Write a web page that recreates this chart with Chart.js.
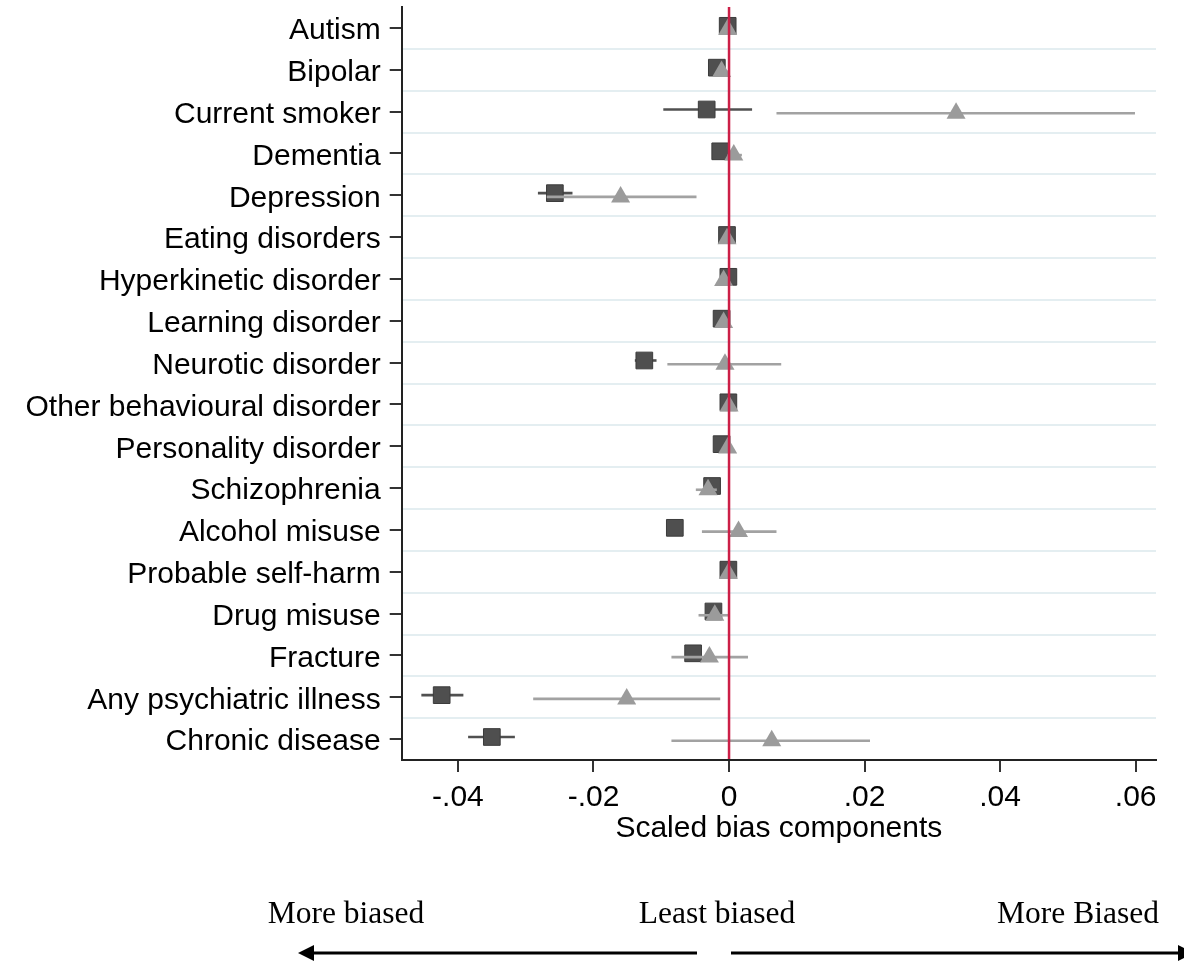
<!DOCTYPE html>
<html>
<head>
<meta charset="utf-8">
<title>Scaled bias components</title>
<script src="https://cdn.jsdelivr.net/npm/chart.js@4/dist/chart.umd.min.js"></script>
<style>
  html, body { margin: 0; padding: 0; background: #fff; }
  #wrap { width: 1184px; height: 963px; }
  canvas { display: block; }
</style>
</head>
<body>
<div id="wrap"><canvas id="c" width="1184" height="963"></canvas></div>
<script>
// Outcomes, listed top to bottom
const categories = [
  'Autism', 'Bipolar', 'Current smoker', 'Dementia', 'Depression',
  'Eating disorders', 'Hyperkinetic disorder', 'Learning disorder',
  'Neurotic disorder', 'Other behavioural disorder', 'Personality disorder',
  'Schizophrenia', 'Alcohol misuse', 'Probable self-harm', 'Drug misuse',
  'Fracture', 'Any psychiatric illness', 'Chronic disease'
];

// First bias component (dark squares): estimate and 95% interval
const squareEst = [-0.0002, -0.0018, -0.0033, -0.0013, -0.0257, -0.0003, -0.0001, -0.0011, -0.0125, -0.0001, -0.0011, -0.0025, -0.0080, -0.0001, -0.0023, -0.0053, -0.0424, -0.0350];
const squareLo  = [-0.0006, -0.0022, -0.0097, -0.0017, -0.0282, -0.0006, -0.0004, -0.0014, -0.0139, -0.0003, -0.0014, -0.0030, -0.0085, -0.0003, -0.0028, -0.0060, -0.0454, -0.0385];
const squareHi  = [ 0.0002, -0.0014,  0.0034, -0.0009, -0.0231,  0.0000,  0.0002, -0.0008, -0.0107,  0.0001, -0.0008, -0.0020, -0.0075,  0.0001, -0.0018, -0.0046, -0.0392, -0.0316];

// Second bias component (grey triangles): estimate and 95% interval
const triEst = [-0.0002, -0.0011,  0.0335,  0.0007, -0.0160, -0.0003, -0.0008, -0.0008, -0.0006,  0.0000, -0.0002, -0.0031,  0.0014, -0.0001, -0.0021, -0.0029, -0.0151,  0.0063];
const triLo  = [-0.0005, -0.0018,  0.0070, -0.0002, -0.0269, -0.0006, -0.0012, -0.0012, -0.0091, -0.0003, -0.0008, -0.0049, -0.0040, -0.0004, -0.0045, -0.0085, -0.0289, -0.0085];
const triHi  = [ 0.0001, -0.0002,  0.0599,  0.0019, -0.0048,  0.0000, -0.0004, -0.0004,  0.0077,  0.0003,  0.0004, -0.0018,  0.0070,  0.0002,  0.0001,  0.0028, -0.0013,  0.0208];

// Horizontal axis ticks
const xTicks = [-0.04, -0.02, 0, 0.02, 0.04, 0.06];
const xTickLabels = ['-.04', '-.02', '0', '.02', '.04', '.06'];

// Annotation under the axis
const directionLabels = ['More biased', 'Least biased', 'More Biased'];

const SANS = '"Liberation Sans", Arial, Helvetica, sans-serif';
const SERIF = '"Liberation Serif", "Times New Roman", Times, serif';

// small vertical dodge so the two markers of a row do not sit exactly on top of each other
const DODGE_SQ = -0.05;
const DODGE_TRI = 0.04;

const sqPoints = categories.map((c, i) => ({ x: squareEst[i], y: i + DODGE_SQ, lo: squareLo[i], hi: squareHi[i] }));
const triPoints = categories.map((c, i) => ({ x: triEst[i], y: i + DODGE_TRI, lo: triLo[i], hi: triHi[i] }));

// keep the plot box fixed: no extra room reserved for edge labels
const noEdgePadding = s => { s.paddingTop = 0; s.paddingBottom = 0; s.paddingLeft = 0; s.paddingRight = 0; };

// Confidence interval whiskers, drawn just before the markers of their own series
const intervalPlugin = {
  id: 'intervals',
  beforeDatasetDraw(chart, args) {
    const ds = chart.data.datasets[args.index];
    const xs = chart.scales.x, ys = chart.scales.y;
    const ctx = chart.ctx;
    ctx.save();
    ctx.strokeStyle = ds.ciColor;
    ctx.lineWidth = 2.6;
    ctx.lineCap = 'butt';
    ds.data.forEach(p => {
      const y = ys.getPixelForValue(p.y);
      ctx.beginPath();
      ctx.moveTo(xs.getPixelForValue(p.lo), y);
      ctx.lineTo(xs.getPixelForValue(p.hi), y);
      ctx.stroke();
    });
    ctx.restore();
  }
};

// Reference line at zero
const zeroLinePlugin = {
  id: 'zeroLine',
  afterDatasetsDraw(chart) {
    const { ctx, chartArea } = chart;
    const x = chart.scales.x.getPixelForValue(0);
    ctx.save();
    ctx.strokeStyle = '#cc1f47';
    ctx.lineWidth = 2.5;
    ctx.beginPath();
    ctx.moveTo(x, chartArea.top);
    ctx.lineTo(x, chartArea.bottom - 1);
    ctx.stroke();
    ctx.restore();
  }
};

// Direction labels and arrows below the chart
const directionPlugin = {
  id: 'direction',
  afterDraw(chart) {
    const ctx = chart.ctx;
    ctx.save();
    ctx.fillStyle = '#000';
    ctx.font = '31.5px ' + SERIF;
    ctx.textAlign = 'center';
    ctx.textBaseline = 'alphabetic';
    const centers = [346, 717, 1078];
    directionLabels.forEach((t, i) => ctx.fillText(t, centers[i], 923));

    const y = 953;
    ctx.strokeStyle = '#000';
    ctx.lineWidth = 3.2;
    // left arrow
    ctx.beginPath();
    ctx.moveTo(697, y);
    ctx.lineTo(310, y);
    ctx.stroke();
    ctx.beginPath();
    ctx.moveTo(298, y);
    ctx.lineTo(314, y - 8);
    ctx.lineTo(314, y + 8);
    ctx.closePath();
    ctx.fill();
    // right arrow
    ctx.beginPath();
    ctx.moveTo(731, y);
    ctx.lineTo(1184, y);
    ctx.stroke();
    ctx.beginPath();
    ctx.moveTo(1194, y);
    ctx.lineTo(1178, y - 8);
    ctx.lineTo(1178, y + 8);
    ctx.closePath();
    ctx.fill();
    ctx.restore();
  }
};

new Chart(document.getElementById('c'), {
  type: 'scatter',
  data: {
    datasets: [
      {
        label: 'Component 1',
        data: sqPoints,
        order: 2,
        pointStyle: 'rect',
        pointRadius: 11.8,
        pointHoverRadius: 11.8,
        backgroundColor: '#4f4f4f',
        borderColor: '#3c3c3c',
        borderWidth: 1,
        ciColor: '#505050'
      },
      {
        label: 'Component 2',
        data: triPoints,
        order: 1,
        pointStyle: 'triangle',
        pointRadius: 11,
        pointHoverRadius: 11,
        backgroundColor: '#9b9b9b',
        borderColor: '#9b9b9b',
        borderWidth: 0,
        ciColor: '#a2a2a2'
      }
    ]
  },
  options: {
    responsive: false,
    animation: false,
    devicePixelRatio: 1,
    events: [],
    layout: { autoPadding: false, padding: { left: 0, top: 7, right: 28, bottom: 113 } },
    plugins: {
      legend: { display: false },
      tooltip: { enabled: false }
    },
    scales: {
      x: {
        type: 'linear',
        position: 'bottom',
        min: -0.0483,
        max: 0.0630,
        afterBuildTicks: s => { s.ticks = xTicks.map(v => ({ value: v })); },
        afterFit: s => { s.height = 90; noEdgePadding(s); },
        ticks: {
          callback: (v) => xTickLabels[xTicks.indexOf(v)],
          font: { family: SANS, size: 30 },
          color: '#000',
          padding: 8,
          maxRotation: 0,
          autoSkip: false
        },
        grid: {
          drawOnChartArea: false,
          drawTicks: true,
          tickLength: 12,
          color: '#333',
          lineWidth: 2
        },
        border: { display: true, color: '#222', width: 2 },
        title: {
          display: true,
          text: 'Scaled bias components',
          font: { family: SANS, size: 30 },
          color: '#000',
          padding: { top: 0, bottom: 3 }
        }
      },
      y: {
        type: 'linear',
        position: 'left',
        reverse: true,
        min: -0.5,
        max: 17.5,
        afterBuildTicks: s => { s.ticks = categories.map((c, i) => ({ value: i })); },
        afterFit: s => { s.width = 401.7; noEdgePadding(s); },
        ticks: {
          callback: (v) => categories[v],
          font: { family: SANS, size: 30 },
          color: '#000',
          padding: 9,
          labelOffset: 3,
          autoSkip: false
        },
        grid: {
          drawOnChartArea: false,
          drawTicks: true,
          tickLength: 12,
          color: '#333',
          lineWidth: 2
        },
        border: { display: true, color: '#222', width: 2 }
      },
      // row separators halfway between outcomes
      rows: {
        type: 'linear',
        position: 'right',
        reverse: true,
        min: -0.5,
        max: 17.5,
        afterBuildTicks: s => { s.ticks = categories.slice(1).map((c, i) => ({ value: i + 0.5 })); },
        afterFit: s => { s.width = 0; noEdgePadding(s); },
        ticks: { display: false },
        grid: {
          drawOnChartArea: true,
          drawTicks: false,
          color: 'rgb(228,238,241)',
          lineWidth: 2
        },
        border: { display: false }
      }
    }
  },
  plugins: [intervalPlugin, zeroLinePlugin, directionPlugin]
});
</script>
</body>
</html>
